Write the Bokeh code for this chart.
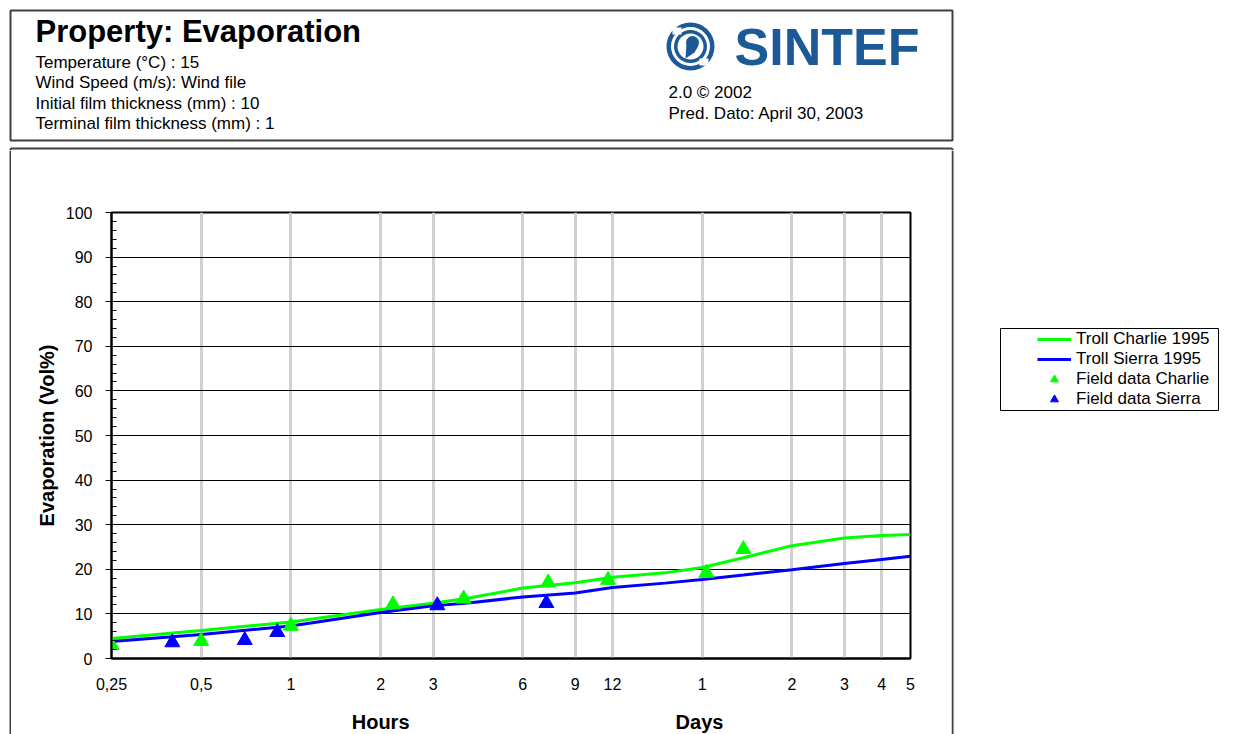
import numpy as np
from bokeh.plotting import figure
from bokeh.layouts import column, row
from bokeh.models import FixedTicker, Range1d, Legend, LegendItem, LogAxis
from bokeh.core.properties import value
from bokeh.embed import file_html
from bokeh.resources import INLINE

# ---------------- data ----------------
tick_hours = [0.25, 0.5, 1, 2, 3, 6, 9, 12, 24, 48, 72, 96, 120]
tick_labels = ["0,25", "0,5", "1", "2", "3", "6", "9", "12", "1", "2", "3", "4", "5"]
grid_hours = [0.25, 0.5, 1, 2, 3, 6, 9, 12, 24, 48, 72, 96]
unit_hours = [2, 23.5]
unit_labels = ["Hours", "Days"]
y_ticks = [0, 10, 20, 30, 40, 50, 60, 70, 80, 90, 100]

line_hours = [0.25, 0.5, 1, 2, 3, 4, 6, 9, 12, 18, 24, 33, 48, 72, 96, 120]
charlie_model = [4.5, 6.3, 8.2, 11.0, 12.4, 13.6, 15.8, 17.0, 18.2, 19.2, 20.4, 22.6, 25.3, 27.0, 27.6, 27.8]
sierra_model = [3.8, 5.4, 7.3, 10.3, 11.8, 12.5, 13.8, 14.7, 15.9, 16.9, 17.7, 18.7, 19.9, 21.3, 22.2, 22.9]

charlie_hours = [0.25, 0.5, 1.0, 2.2, 3.8, 7.3, 11.6, 24.8, 33]
charlie_obs = [3.0, 3.9, 7.3, 12.1, 13.4, 17.0, 17.6, 19.2, 24.5]
sierra_hours = [0.4, 0.7, 0.9, 3.1, 7.2]
sierra_obs = [3.6, 4.1, 5.9, 11.9, 12.4]

series_names = ["Troll Charlie 1995", "Troll Sierra 1995", "Field data Charlie", "Field data Sierra"]
title_text = "Property: Evaporation"
header_lines = ["Temperature (\u00b0C) : 15", "Wind Speed (m/s): Wind file",
                "Initial film thickness (mm) : 10", "Terminal film thickness (mm) : 1"]
version_lines = ["2.0 \u00a9 2002", "Pred. Dato: April 30, 2003"]

GREEN = "#00ff00"
BLUE = "#0000ff"
LOGO = "#1b5a97"
BOXC = "#404040"
FONT = "Liberation Sans"


def blank(width, height, x0, x1, y0, y1):
    f = figure(width=width, height=height, x_range=Range1d(x0, x1), y_range=Range1d(y1, y0),
               x_axis_type=None, y_axis_type=None, min_border=0, frame_align=False,
               output_backend="svg", toolbar_location=None)
    f.outline_line_color = None
    f.xgrid.visible = False
    f.ygrid.visible = False
    f.background_fill_color = "white"
    f.border_fill_color = "white"
    return f


# ---------------- header (page y 0..150) ----------------
h = blank(1245, 150, 0, 1245, 0, 150)
h.quad(left=10, right=952, top=10, bottom=140, fill_alpha=0, line_color=BOXC, line_width=2)
h.segment(x0=[10, 952, 10], y0=[148, 148, 148], x1=[952, 952, 10], y1=[148, 150, 150],
          line_color=BOXC, line_width=2)
h.text(x=[35], y=[31], text=[title_text], text_font=value(FONT), text_font_size="31px",
       text_font_style="bold", text_baseline="middle", text_color="black")
h.text(x=[35] * 4, y=[61.5, 82, 102.5, 123], text=header_lines, text_font=value(FONT),
       text_font_size="17px", text_baseline="middle", text_color="black")
h.text(x=[668, 668], y=[92, 113], text=version_lines, text_font=value(FONT),
       text_font_size="17px", text_baseline="middle", text_color="black")
# SINTEF logo (decoration)
h.circle(x=[690], y=[46], radius=24, fill_color=LOGO, line_color=None)
h.circle(x=[690], y=[46], radius=19.5, fill_color="white", line_color=None)
h.circle(x=[690], y=[46], radius=16.5, fill_color=LOGO, line_color=None)
h.circle(x=[690], y=[46], radius=13, fill_color="white", line_color=None)
h.quad(left=[672, 699], right=[681, 708], top=[27, 58], bottom=[34, 65], fill_color="white", line_color=None)
h.circle(x=[692], y=[42], radius=6.5, fill_color=LOGO, line_color=None)
h.patch(x=[686, 698, 694, 685], y=[43, 45, 52, 58], fill_color=LOGO, line_color=None)
h.text(x=[734], y=[46.5], text=["SINTEF"], text_font=value(FONT), text_font_size="52px",
       text_font_style="bold", text_baseline="middle", text_color=LOGO)

# ---------------- left strip (page x 0..11) ----------------
ls = blank(11, 584, 0, 11, 150, 734)
ls.segment(x0=[10], y0=[150], x1=[10], y1=[734], line_color=BOXC, line_width=2)

# ---------------- chart (page x 11..951, y 150..734) ----------------
p = figure(frame_width=799, frame_height=446, x_axis_type="log",
           x_range=Range1d(0.25, 120), y_range=Range1d(0, 100),
           output_backend="svg", toolbar_location=None, frame_align=False,
           min_border_left=100, min_border_right=41,
           min_border_top=62, min_border_bottom=76,
           background_fill_color="white", border_fill_color="white")
p.outline_line_color = "black"
p.outline_line_width = 2

xa = p.xaxis[0]
xa.ticker = FixedTicker(ticks=tick_hours, minor_ticks=[])
xa.major_label_overrides = {k: l for k, l in zip(tick_hours, tick_labels)}
xa.major_tick_in = 0
xa.major_tick_out = 0
xa.minor_tick_in = 0
xa.minor_tick_out = 0
xa.axis_line_color = "black"
xa.axis_line_width = 2
xa.major_label_text_font = FONT
xa.major_label_text_font_size = "16px"
xa.major_label_text_color = "black"
xa.major_label_standoff = 19

xa2 = LogAxis(ticker=FixedTicker(ticks=unit_hours, minor_ticks=[]),
              major_label_overrides={k: l for k, l in zip(unit_hours, unit_labels)})
xa2.axis_line_color = None
xa2.major_tick_line_color = None
xa2.minor_tick_line_color = None
xa2.major_label_text_font = FONT
xa2.major_label_text_font_size = "20px"
xa2.major_label_text_font_style = "bold"
xa2.major_label_text_color = "black"
xa2.major_label_standoff = 12
p.add_layout(xa2, "below")

ya = p.yaxis[0]
ya.ticker = FixedTicker(ticks=y_ticks, minor_ticks=list(range(0, 101, 2)))
ya.major_tick_out = 6
ya.major_tick_in = 0
ya.minor_tick_in = 5
ya.minor_tick_out = 0
ya.major_tick_line_color = "black"
ya.minor_tick_line_color = "black"
ya.axis_line_color = "black"
ya.axis_line_width = 2
ya.major_label_text_font = FONT
ya.major_label_text_font_size = "16px"
ya.major_label_text_color = "black"
ya.major_label_standoff = 13
ya.axis_label = "Evaporation (Vol%)"
ya.axis_label_text_font = FONT
ya.axis_label_text_font_size = "20px"
ya.axis_label_text_font_style = "bold"
ya.axis_label_text_color = "black"
ya.axis_label_standoff = 5

p.xgrid.ticker = FixedTicker(ticks=grid_hours, minor_ticks=[])
p.xgrid.grid_line_color = "#d0d0d0"
p.xgrid.grid_line_width = 3
p.ygrid.ticker = FixedTicker(ticks=y_ticks, minor_ticks=[])
p.ygrid.grid_line_color = "black"
p.ygrid.grid_line_width = 1

p.line(line_hours, charlie_model, line_color=GREEN, line_width=3)
p.line(line_hours, sierra_model, line_color=BLUE, line_width=3)
p.scatter(charlie_hours, charlie_obs, marker="triangle", size=15, fill_color=GREEN, line_color=GREEN)
p.scatter(sierra_hours, sierra_obs, marker="triangle", size=15, fill_color=BLUE, line_color=BLUE)

# ---------------- right side with legend (page x 951..1245) ----------------
rs = blank(294, 584, 951, 1245, 150, 734)
rs.segment(x0=[952], y0=[150], x1=[952], y1=[734], line_color=BOXC, line_width=2)
rs.quad(left=1000, right=1218, top=328, bottom=410, fill_alpha=0, line_color="black", line_width=1)
# legend keys (one NaN point each, so nothing is drawn in the box itself)
k1 = rs.line([np.nan], [np.nan], line_color=GREEN, line_width=3)
k2 = rs.line([np.nan], [np.nan], line_color=BLUE, line_width=3)
k3 = rs.scatter([np.nan], [np.nan], marker="triangle", size=15, fill_color=GREEN, line_color=GREEN)
k4 = rs.scatter([np.nan], [np.nan], marker="triangle", size=15, fill_color=BLUE, line_color=BLUE)
legend = Legend(items=[LegendItem(label=n, renderers=[r]) for n, r in zip(series_names, [k1, k2, k3, k4])],
                location=(86, 325))
legend.border_line_alpha = 0
legend.background_fill_alpha = 0
legend.padding = 0
legend.margin = 0
legend.spacing = 0
legend.glyph_width = 34
legend.glyph_height = 20
legend.label_height = 20
legend.label_standoff = 5
legend.label_text_font = FONT
legend.label_text_font_size = "17px"
legend.label_text_color = "black"
rs.add_layout(legend)

page = column(h, row(ls, p, rs, spacing=0), spacing=0)
open("out.html", "w").write(file_html(page, INLINE))
